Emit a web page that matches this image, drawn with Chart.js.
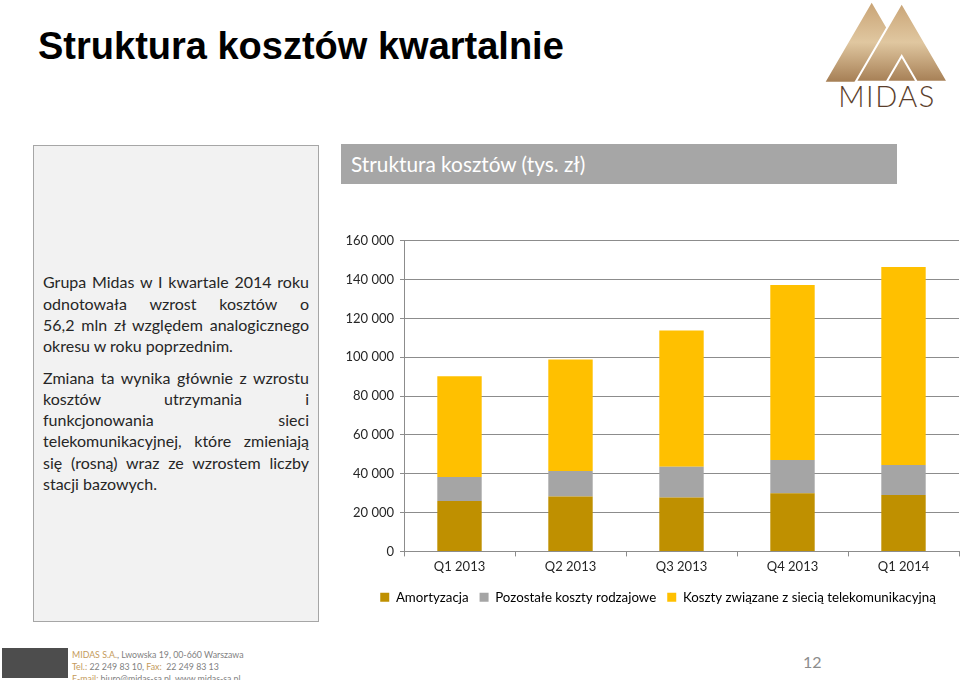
<!DOCTYPE html>
<html lang="pl">
<head>
<meta charset="utf-8">
<title>Struktura kosztów kwartalnie</title>
<script src="https://cdn.jsdelivr.net/npm/chart.js@4/dist/chart.umd.min.js"></script>
<style>
    body { margin: 0; width: 960px; height: 680px; background: #fff; position: relative; overflow: hidden; font-family: Lato, "Open Sans", sans-serif; }
    #title { position: absolute; left: 38px; top: 25px; font: bold 38px "Liberation Sans", Arial, sans-serif; color: #000; white-space: nowrap; }
    #logo { position: absolute; left: 820px; top: 0; }
    #panel { position: absolute; left: 33px; top: 145px; width: 286px; height: 477px; background: #f2f2f2; border: 1.5px solid #a6a6a6; box-sizing: border-box; display: flex; flex-direction: column; justify-content: center; padding-top: 9px; }
    #panel .txt { margin-left: 9px; width: 266px; font-size: 16px; line-height: 21.2px; color: #262626; }
    #panel p { margin: 0 0 10.5px 0; }
    #panel .j { text-align: justify; text-align-last: justify; white-space: nowrap; }
    #header { position: absolute; left: 341px; top: 144px; width: 556px; height: 40px; background: #a6a6a6; color: #fff; font-size: 20.8px; line-height: 40px; padding-left: 10px; box-sizing: border-box; }
    #chartBox { position: absolute; left: 330px; top: 225px; width: 630px; height: 395px; }
    #footBox { position: absolute; left: 2px; top: 648px; width: 66px; height: 30px; background: #4d4d4d; }
    #foot { position: absolute; left: 72px; top: 649px; font-family: Lato, sans-serif; font-size: 8.8px; line-height: 12px; color: #7f7f7f; white-space: nowrap; }
    #foot b { font-weight: normal; color: #c49a5a; }
    #page { position: absolute; left: 803px; top: 652px; font-size: 16px; color: #8c8c8c; }
</style>
</head>
<body>
<div id="title">Struktura kosztów kwartalnie</div>

<svg id="logo" width="140" height="112" viewBox="820 0 140 112">
    <defs>
        <linearGradient id="gold" x1="0" y1="0" x2="0" y2="1">
            <stop offset="0" stop-color="#c9a476"/>
            <stop offset="0.5" stop-color="#e0c7a0"/>
            <stop offset="1" stop-color="#a67f55"/>
        </linearGradient>
    </defs>
    <path fill="url(#gold)" fill-rule="evenodd" d="M825.7,81.7 L871.7,2.7 L917.7,81.7 Z M856.7,81.7 L871.7,55.9 L886.7,81.7 Z"/>
    <path fill="url(#gold)" fill-rule="evenodd" stroke="#fff" stroke-width="2" d="M855.7,81.7 L901.7,2.7 L947.7,81.7 Z M886.7,81.7 L901.7,55.9 L916.7,81.7 Z"/>
    <rect x="820" y="82.5" width="140" height="4" fill="#fff"/>
    <text x="887" y="107" text-anchor="middle" font-family="Lato, sans-serif" font-weight="300" font-size="29" fill="#5a3e2b" letter-spacing="1.5">MIDAS</text>
</svg>

<div id="panel">
    <div class="txt">
        <p>
            <span class="j" style="display:block">Grupa Midas w I kwartale 2014 roku</span>
            <span class="j" style="display:block">odnotowała wzrost kosztów o</span>
            <span class="j" style="display:block">56,2 mln zł względem analogicznego</span>
            <span style="display:block">okresu w roku poprzednim.</span>
        </p>
        <p>
            <span class="j" style="display:block">Zmiana ta wynika głównie z wzrostu</span>
            <span class="j" style="display:block">kosztów utrzymania i</span>
            <span class="j" style="display:block">funkcjonowania sieci</span>
            <span class="j" style="display:block">telekomunikacyjnej, które zmieniają</span>
            <span class="j" style="display:block">się (rosną) wraz ze wzrostem liczby</span>
            <span style="display:block">stacji bazowych.</span>
        </p>
    </div>
</div>

<div id="header">Struktura kosztów (tys. zł)</div>

<div id="chartBox"><canvas id="chart" width="630" height="395"></canvas></div>

<div id="footBox"></div>
<div id="foot">
    <div><b>MIDAS S.A.</b>, Lwowska 19, 00-660 Warszawa</div>
    <div><b>Tel.:</b> 22 249 83 10, <b>Fax:</b>&nbsp; 22 249 83 13</div>
    <div><b>E-mail:</b> biuro@midas-sa.pl, www.midas-sa.pl</div>
</div>
<div id="page">12</div>

<script>
// dane (tys. zł)
const categories = ['Q1 2013', 'Q2 2013', 'Q3 2013', 'Q4 2013', 'Q1 2014'];
const amortyzacja = [26000, 28300, 27800, 30000, 29100];
const pozostale = [12300, 13100, 15800, 17100, 15400];
const siec = [51900, 57400, 70200, 90100, 101900];
const seriesNames = ['Amortyzacja', 'Pozostałe koszty rodzajowe', 'Koszty związane z siecią telekomunikacyjną'];

const gridColor = '#8c8c8c';
const textColor = '#262626';

function formatThousands(v) {
    return String(v).replace(/\B(?=(\d{3})+(?!\d))/g, ' ');
}

// legenda przesunięta w prawo, żeby była wyśrodkowana pod samym wykresem
const shiftLegend = {
    id: 'shiftLegend',
    afterLayout(chart) {
        chart.legend.left = 27;
    }
};

const ctx = document.getElementById('chart').getContext('2d');
new Chart(ctx, {
    type: 'bar',
    data: {
        labels: categories,
        datasets: [
            { label: seriesNames[0], data: amortyzacja, backgroundColor: '#bf9000' },
            { label: seriesNames[1], data: pozostale, backgroundColor: '#a5a5a5' },
            { label: seriesNames[2], data: siec, backgroundColor: '#ffc000' }
        ]
    },
    plugins: [shiftLegend],
    options: {
        responsive: false,
        animation: false,
        categoryPercentage: 0.8,
        barPercentage: 0.5,
        layout: { padding: { left: 0, right: 1, top: 15.7, bottom: 6 } },
        plugins: {
            legend: {
                position: 'bottom',
                labels: {
                    boxWidth: 9,
                    boxHeight: 9,
                    padding: 11,
                    color: '#000',
                    font: { family: 'Lato', size: 13.3 }
                }
            },
            tooltip: { enabled: false }
        },
        scales: {
            x: {
                stacked: true,
                grid: { drawOnChartArea: false, drawTicks: true, tickLength: 5, color: gridColor },
                border: { color: gridColor },
                ticks: { color: textColor, padding: 3, font: { family: 'Lato', size: 13 } },
                afterFit: function(scale) { scale.height = 28.3; }
            },
            y: {
                stacked: true,
                min: 0,
                max: 160000,
                grid: { color: gridColor, tickLength: 4 },
                border: { color: gridColor },
                ticks: {
                    stepSize: 20000,
                    color: textColor,
                    padding: 6,
                    font: { family: 'Lato', size: 13 },
                    callback: function(value) { return formatThousands(value); }
                },
                afterFit: function(scale) { scale.width = 74; }
            }
        }
    }
});
</script>
</body>
</html>
